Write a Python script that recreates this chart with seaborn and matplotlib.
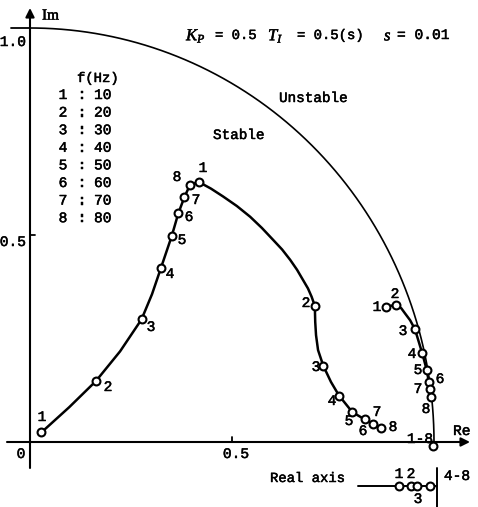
import numpy as np
import matplotlib
matplotlib.use("Agg")
import matplotlib.pyplot as plt
import matplotlib.patheffects as pe
import seaborn as sns

# ---------------- data ----------------
freq_ids = ["1", "2", "3", "4", "5", "6", "7", "8"]
freq_hz = [10, 20, 30, 40, 50, 60, 70, 80]

# curve A (left curve) marker points
a_re = [0.028, 0.163, 0.276, 0.324, 0.351, 0.367, 0.382, 0.396]
a_im = [0.023, 0.147, 0.296, 0.420, 0.498, 0.552, 0.591, 0.621]
# traced path of curve A
a_path_re = [0.028, 0.097, 0.163, 0.223, 0.276, 0.302, 0.324, 0.351, 0.367, 0.382, 0.396, 0.418]
a_path_im = [0.023, 0.084, 0.147, 0.219, 0.296, 0.357, 0.420, 0.498, 0.552, 0.591, 0.621, 0.628]

# curve B (middle curve) marker points
b_re = [0.418, 0.705, 0.726, 0.765, 0.798, 0.828, 0.850, 0.870]
b_im = [0.628, 0.329, 0.184, 0.112, 0.072, 0.055, 0.043, 0.035]
b_path_re = [0.418, 0.448, 0.478, 0.512, 0.545, 0.574, 0.602, 0.624, 0.644, 0.661,
             0.676, 0.688, 0.697, 0.705, 0.706, 0.708, 0.713, 0.726, 0.745, 0.765,
             0.798, 0.828, 0.850, 0.870]
b_path_im = [0.628, 0.612, 0.593, 0.570, 0.544, 0.517, 0.488, 0.465, 0.440, 0.416,
             0.391, 0.371, 0.351, 0.329, 0.290, 0.258, 0.222, 0.184, 0.145, 0.112,
             0.072, 0.055, 0.043, 0.035]

# curve C (right curve) marker points
c_re = [0.881, 0.906, 0.953, 0.971, 0.982, 0.987, 0.990, 0.992]
c_im = [0.327, 0.331, 0.272, 0.214, 0.174, 0.146, 0.127, 0.109]
c_path_re = [0.881, 0.906, 0.919, 0.928, 0.941, 0.953, 0.971, 0.982, 0.987, 0.990, 0.992]
c_path_im = [0.327, 0.331, 0.323, 0.311, 0.294, 0.272, 0.214, 0.174, 0.146, 0.127, 0.109]

# points 1-8 of the third case, on the axis
c18_re = [0.998]
c18_im = [-0.010]

# "Real axis" inset: marker positions along the inset line
real_ids = ["1", "2", "3", ""]
real_re = [0.914, 0.942, 0.957, 0.990]

# ---------------- layout helpers ----------------
def P(px, py):
    """pixel position of the reference -> data coordinates"""
    return ((px - 30) / 404.0, (442 - py) / 414.0)

sns.set_theme(style="white")
plt.rcParams["font.family"] = ["Liberation Mono", "DejaVu Sans Mono"]
plt.rcParams["mathtext.fontset"] = "custom"
plt.rcParams["mathtext.rm"] = "Liberation Serif"
plt.rcParams["mathtext.it"] = "Liberation Serif:italic"

fig = plt.figure(figsize=(4.78, 5.07), dpi=100)
ax = fig.add_axes([0, 0, 1, 1])
ax.set_xlim(-30 / 404.0, 448 / 404.0)
ax.set_ylim(-65 / 414.0, 442 / 414.0)
ax.axis("off")

K = "black"
FS = 10
BOLDEN = [pe.withStroke(linewidth=0.35, foreground=K)]

# axes with arrows
x0, y0 = P(7, 442)
x1, _ = P(470, 442)
ax.annotate("", xy=(x1, 0), xytext=(x0, 0),
            arrowprops=dict(arrowstyle="-|>", lw=1.5, color=K, mutation_scale=13,
                            shrinkA=0, shrinkB=0))
_, yb = P(30, 468)
_, yt = P(30, 8)
ax.annotate("", xy=(0, yt), xytext=(0, yb),
            arrowprops=dict(arrowstyle="-|>", lw=1.5, color=K, mutation_scale=13,
                            shrinkA=0, shrinkB=0))
# ticks
ax.plot([0, 5 / 404.0], [0.5, 0.5], color=K, lw=1.3)
ax.plot([0.5, 0.5], [0, 5 / 414.0], color=K, lw=1.3)
ax.plot([P(11, 0)[0], 0], [1, 1], color=K, lw=1.3)

# unit circle (stability boundary)
theta = np.linspace(0, np.pi / 2, 300)
sns.lineplot(x=np.cos(theta), y=np.sin(theta), sort=False, estimator=None,
             color=K, lw=1.2, ax=ax)

# curves
for pr, pi in [(a_path_re, a_path_im), (b_path_re, b_path_im), (c_path_re, c_path_im)]:
    sns.lineplot(x=pr, y=pi, sort=False, estimator=None, color=K, lw=1.8, ax=ax)
for line in ax.get_lines():
    line.set_solid_joinstyle("round")
    line.set_solid_capstyle("round")

# inset real-axis diagram
xi0, yi = P(358, 486)
xi1, _ = P(437, 486)
ax.plot([xi0, xi1], [yi, yi], color=K, lw=1.4)
_, yv0 = P(437, 468)
_, yv1 = P(437, 507)
ax.plot([xi1, xi1], [yv0, yv1], color=K, lw=1.4)

# markers
mk = dict(marker="o", s=32, facecolor="white", edgecolor=K, linewidth=1.5, zorder=5)
sns.scatterplot(x=a_re, y=a_im, ax=ax, **mk)
sns.scatterplot(x=b_re, y=b_im, ax=ax, **mk)
sns.scatterplot(x=c_re, y=c_im, ax=ax, **mk)
sns.scatterplot(x=c18_re, y=c18_im, ax=ax, **mk)
sns.scatterplot(x=real_re, y=[yi] * len(real_re), ax=ax, **mk)

def T(px, py, s, ha="center", va="center", fs=FS, **kw):
    x, y = P(px, py)
    ax.text(x, y, s, ha=ha, va=va, fontsize=fs, color=K, path_effects=BOLDEN, **kw)

# curve point labels
a_lab = [(42, 417), (108, 387), (151, 327), (170, 274), (182, 240), (189, 217), (196, 200), (177, 177)]
b_lab = [(203, 168), (306, 303), (316, 367), (332, 401), (349, 421), (363, 431), (377, 412), (393, 427)]
c_lab = [(377, 307), (395, 294), (403, 331), (412, 354), (418, 370), (440, 379), (418, 389), (426, 409)]
for labs in (a_lab, b_lab, c_lab):
    for fid, (px, py) in zip(freq_ids, labs):
        T(px, py, fid, fs=10.5)
T(420, 439, "1-8", fs=10.5)

# inset labels
T(399, 474, real_ids[0], fs=10.5)
T(411, 474, real_ids[1], fs=10.5)
T(418, 499, real_ids[2], fs=10.5)
T(457, 476, "4-8", fs=10.5)
T(270, 478, "Real axis", ha="left")

# axis labels / tick labels
T(42, 16, "Im", ha="left", family="Liberation Serif", fs=11)
T(453, 431, "Re", ha="left", fs=10.5)
T(26, 42, "1.0", ha="right", fs=10.5)
T(26, 242, "0.5", ha="right", fs=10.5)
T(21, 454, "0", fs=10.5)
T(236, 454, "0.5", fs=10.5)

# parameter line
T(186, 36, r"$K_P$", ha="left", fs=12)
T(215, 35, "= 0.5", ha="left")
T(268, 36, r"$T_I$", ha="left", fs=12)
T(297, 35, "= 0.5(s)", ha="left")
T(384, 36, r"$s$", ha="left", fs=12)
T(397, 35, "= 0.01", ha="left", fs=10.5)

T(279, 98, "Unstable", ha="left", fs=10.3)
T(213, 135, "Stable", ha="left", fs=10.3)

# frequency table
T(77, 78, "f(Hz)", ha="left")
for i, (fid, hz) in enumerate(zip(freq_ids, freq_hz)):
    yy = 95 + 17.6 * i
    T(63, yy, fid, fs=10.5)
    T(82, yy, ":", fs=10.5)
    T(94, yy, str(hz), ha="left", fs=10.5)

fig.savefig("out.png", dpi=100)
